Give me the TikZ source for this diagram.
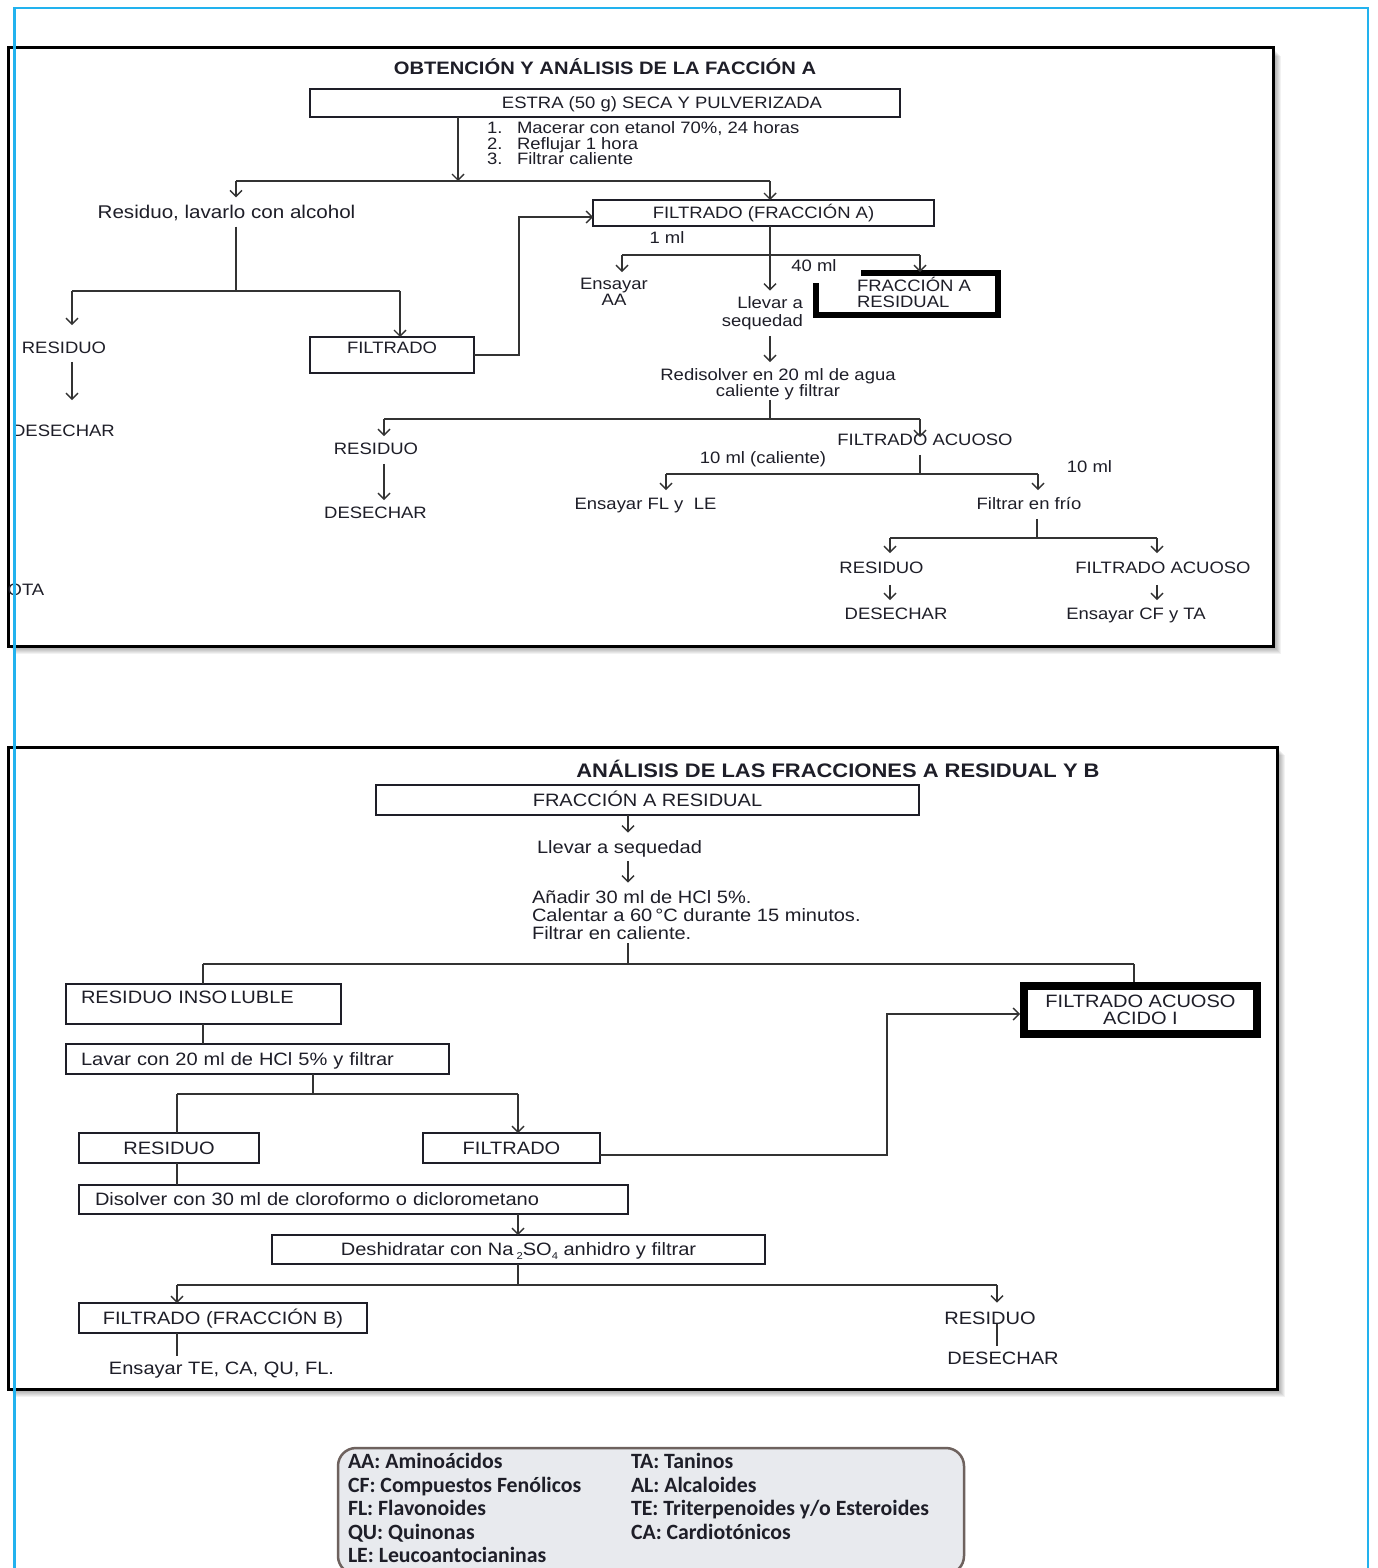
\documentclass[tikz,border=0pt]{standalone}
\usepackage{fontspec}
\setmainfont{Liberation Sans}
\newfontfamily\lab[FakeStretch=1.12]{Liberation Sans}
\newfontfamily\legfont{Carlito}
\usetikzlibrary{arrows.meta,calc}
\definecolor{ink}{HTML}{1E1E28}
\definecolor{wire}{HTML}{333333}
\definecolor{cyanframe}{HTML}{22B2EE}
\definecolor{legborder}{HTML}{6E625E}
\definecolor{legfill}{HTML}{E8EAEE}
\newcommand\chemsub[1]{\raisebox{-0.35ex}{\fontsize{10}{10}\selectfont #1}}
\tikzset{
  every node/.style={inner sep=0pt, outer sep=0pt, text=ink},
  fA/.style={font=\lab\fontsize{16.5}{18}\selectfont},
  fB/.style={font=\lab\fontsize{17.9}{19}\selectfont},
  lbl/.style={fA, text height=11.8pt, text depth=0pt},
  lblB/.style={fB, text height=12.8pt, text depth=0pt},
  boxA/.style={fA, draw=ink, line width=1.4pt, text height=11.8pt, text depth=0pt},
  boxB/.style={fB, draw=ink, line width=1.4pt, text height=12.8pt, text depth=0pt},
  conn/.style={draw=wire, line width=1.4pt},
  arr/.style={conn, -{Straight Barb[length=6pt,width=12pt]}},
  frame/.style={draw=black, line width=3pt, fill=white},
  legtext/.style={font=\legfont\bfseries\fontsize{21.8}{23.5}\selectfont, align=left, anchor=west, text depth=0pt},
}
\begin{document}
\begin{tikzpicture}[x=1pt,y=-1pt]
\useasboundingbox (0,0) rectangle (1378,1568);
\fill[white] (0,0) rectangle (1378,1568);

% ---------- frames with soft shadow ----------
\foreach \s in {1,...,8}{
  \fill[black,opacity=0.05] (8+\s,48+\s) rectangle (1273+\s,646+\s);
  \fill[black,opacity=0.05] (8+\s,747+\s) rectangle (1277+\s,1389+\s);
}
\draw[frame] (8,48) rectangle (1273,646);
\draw[frame] (8,747) rectangle (1277,1389);

% ================= Fracción A =================
\node[lbl, font=\lab\bfseries\fontsize{18}{20}\selectfont, text height=12.9pt] (t1) at (605,68) {OBTENCIÓN Y ANÁLISIS DE LA FACCIÓN A};
\node[boxA, minimum width=590pt, minimum height=28pt] (estra) at (605,103) {\hspace*{114pt}ESTRA (50 g) SECA Y PULVERIZADA};
\node[fA, font=\lab\fontsize{16.5}{15.5}\selectfont, align=left, anchor=west, text height=42.8pt, text depth=0pt] (steps) at (487,143.5)
  {\makebox[30pt][l]{1.}Macerar con etanol 70\%, 24 horas\\\makebox[30pt][l]{2.}Reflujar 1 hora\\\makebox[30pt][l]{3.}Filtrar caliente};
\node[lbl, font=\lab\fontsize{18.4}{20}\selectfont, text height=13.2pt] (resA) at (226.5,212) {Residuo, lavarlo con alcohol};
\node[boxA, minimum width=341pt, minimum height=26pt] (filtA) at (763.5,213) {FILTRADO (FRACCIÓN A)};
\node[lbl] (oneml) at (667,238) {1 ml};
\node[lbl] (fortyml) at (814,266) {40 ml};
\node[fA, font=\lab\fontsize{16.5}{16}\selectfont, align=center, text height=27.8pt, text depth=0pt] (ensAA) at (614,292) {Ensayar\\AA};
\node[fA, font=\lab\fontsize{16.5}{18}\selectfont, align=right, anchor=east, text height=29.8pt, text depth=0pt] (llevar) at (803,311.5) {Llevar a\\sequedad};
\node[fA, font=\lab\fontsize{16.5}{16}\selectfont, align=left, anchor=west, text height=27.8pt, text depth=0pt] (fracAR) at (857,294) {FRACCIÓN A\\RESIDUAL};
\draw[line width=6pt, black, line join=miter] (861,272.5) -- (998,272.5) -- (998,315) -- (816,315) -- (816,283);
\node[lbl] (res1) at (64,348) {RESIDUO};
\node[boxA, minimum width=164pt, minimum height=36pt, text depth=14pt] (filt1) at (392,355) {FILTRADO};
\node[lbl] (des1) at (63.5,431) {DESECHAR};
\node[lbl] (ota) at (26,590) {OTA};
\node[fA, font=\lab\fontsize{16.5}{15}\selectfont, align=center, text height=26.8pt, text depth=0pt] (redis) at (778,383.5) {Redisolver en 20 ml de agua\\caliente y filtrar};
\node[lbl] (res2) at (376,449) {RESIDUO};
\node[lbl] (des2) at (375.5,513) {DESECHAR};
\node[lbl] (filtAc) at (925,440) {FILTRADO ACUOSO};
\node[lbl] (tenmlc) at (763,458) {10 ml (caliente)};
\node[lbl] (tenml) at (1089.5,467) {10 ml};
\node[lbl] (ensFL) at (645.5,504) {Ensayar FL y\ \ LE};
\node[lbl] (filtF) at (1029,504) {Filtrar en frío};
\node[lbl] (res3) at (881.5,568) {RESIDUO};
\node[lbl] (des3) at (896,614) {DESECHAR};
\node[lbl] (filtAc2) at (1163,568) {FILTRADO ACUOSO};
\node[lbl] (ensCF) at (1136,614) {Ensayar CF y TA};

% connectors, fracción A
\coordinate (s1) at (458,181);
\coordinate (s1L) at (236,181);
\coordinate (s1R) at (770,181);
\draw[arr] (estra.south -| s1) -- (s1);
\draw[conn] (s1L) -- (s1R);
\draw[arr, shorten >=8pt] (s1L) -- (s1L |- resA.north);
\draw[arr] (s1R) -- (s1R |- filtA.north);

\coordinate (j2) at (236,291);
\coordinate (j2L) at (72,291);
\coordinate (j2R) at (400,291);
\draw[conn, shorten <=8pt] (resA.south -| j2) -- (j2);
\draw[conn] (j2L) -- (j2R);
\draw[arr, shorten >=17pt] (j2L) -- (j2L |- res1.north);
\draw[arr] (j2R) -- (j2R |- filt1.north);
\draw[arr, shorten <=8pt, shorten >=25pt] (res1.south -| j2L) -- (j2L |- des1.north);
\coordinate (k1) at (519,217);
\draw[arr] (filt1.east) -| (k1) -- (k1 -| filtA.west);

\coordinate (f1L) at (622,255);
\coordinate (f1R) at (920,255);
\draw[arr, shorten >=6pt] (filtA.south -| s1R) -- (s1R |- llevar.north);
\draw[conn] (f1L) -- (f1R);
\draw[arr, shorten >=6pt] (f1L) -- (f1L |- ensAA.north);
\draw[arr, shorten >=8pt] (f1R) -- (f1R |- fracAR.north);
\draw[arr, shorten <=10pt, shorten >=8pt] (llevar.south -| s1R) -- (s1R |- redis.north);

\coordinate (r2) at (770,419);
\coordinate (r2L) at (384,419);
\coordinate (r2R) at (920,419);
\draw[conn, shorten <=3pt] (redis.south -| r2) -- (r2);
\draw[conn] (r2L) -- (r2R);
\draw[arr, shorten >=7pt] (r2L) -- (r2L |- res2.north);
\draw[arr, shorten >=-3pt] (r2R) -- (r2R |- filtAc.north);
\draw[arr, shorten <=9pt, shorten >=7pt] (res2.south -| r2L) -- (r2L |- des2.north);

\coordinate (r3) at (920,474);
\coordinate (r3L) at (666,474);
\coordinate (r3R) at (1038,474);
\draw[conn, shorten <=9pt] (filtAc.south -| r3) -- (r3);
\draw[conn] (r3L) -- (r3R);
\draw[arr, shorten >=8pt] (r3L) -- (r3L |- ensFL.north);
\draw[arr, shorten >=8pt] (r3R) -- (r3R |- filtF.north);

\coordinate (r4) at (1037,538);
\coordinate (r4L) at (890,538);
\coordinate (r4R) at (1157,538);
\draw[conn, shorten <=9pt] (filtF.south -| r4) -- (r4);
\draw[conn] (r4L) -- (r4R);
\draw[arr, shorten >=9pt] (r4L) -- (r4L |- res3.north);
\draw[arr, shorten >=9pt] (r4R) -- (r4R |- filtAc2.north);
\draw[arr, shorten <=11pt, shorten >=8pt] (res3.south -| r4L) -- (r4L |- des3.north);
\draw[arr, shorten <=11pt, shorten >=8pt] (filtAc2.south -| r4R) -- (r4R |- ensCF.north);

% ================= Fracciones A residual y B =================
\node[lbl, font=\lab\bfseries\fontsize{19.6}{21}\selectfont, text height=14pt] (t2) at (838,770) {ANÁLISIS DE LAS FRACCIONES A RESIDUAL Y B};
\node[boxB, minimum width=543pt, minimum height=30pt] (fracR2) at (647.5,800) {FRACCIÓN A RESIDUAL};
\node[lblB] (llev2) at (619.5,847) {Llevar a sequedad};
\node[fB, font=\lab\fontsize{17.9}{18}\selectfont, align=left, anchor=west, text height=48.8pt, text depth=0pt] (anad) at (532,915)
  {Añadir 30 ml de HCl 5\%.\\Calentar a 60\,°C durante 15 minutos.\\Filtrar en caliente.};
\node[boxB, minimum height=40pt, text depth=14pt, align=left, text width=245pt, inner xsep=15pt] (resIns) at (203.5,1004) {RESIDUO INSO\,LUBLE};
\node[boxB, minimum height=30pt, align=left, text width=353pt, inner xsep=15pt] (lavar) at (257.5,1059) {Lavar con 20 ml de HCl 5\% y filtrar};
\node[boxB, minimum width=180pt, minimum height=30pt] (res4) at (169,1148) {RESIDUO};
\node[boxB, minimum width=177pt, minimum height=30pt] (filt4) at (511.5,1148) {FILTRADO};
\node[boxB, draw=black, line width=8pt, outer sep=4pt, minimum width=233pt, minimum height=48pt, align=center,
      font=\lab\fontsize{17.9}{17}\selectfont, text height=29.8pt] (acido) at (1140.5,1010) {FILTRADO ACUOSO\\ACIDO I};
\node[boxB, minimum height=29pt, align=left, text width=517pt, inner xsep=16pt] (diso) at (353.5,1199.5) {Disolver con 30 ml de cloroformo o diclorometano};
\node[boxB, minimum width=493pt, minimum height=29pt] (desh) at (518.5,1249.5) {Deshidratar con Na\,\chemsub{2}SO\chemsub{4} anhidro y filtrar};
\node[boxB, minimum width=288pt, minimum height=30pt] (filtB) at (223,1318) {FILTRADO (FRACCIÓN B)};
\node[lblB] (ensTE) at (221.5,1368) {Ensayar TE, CA, QU, FL.};
\node[lblB] (res5) at (990,1318) {RESIDUO};
\node[lblB] (des5) at (1003,1358) {DESECHAR};

% connectors, fracciones A residual y B
\coordinate (m1) at (628,964);
\coordinate (m1L) at (203,964);
\coordinate (m1R) at (1134,964);
\draw[arr, shorten >=8pt] (fracR2.south -| m1) -- (m1 |- llev2.north);
\draw[arr, shorten <=8pt, shorten >=8pt] (llev2.south -| m1) -- (m1 |- anad.north);
\draw[conn, shorten <=4pt] (anad.south -| m1) -- (m1);
\draw[conn] (m1L) -- (m1R);
\draw[conn] (m1L) -- (m1L |- resIns.north);
\draw[conn] (m1R) -- (m1R |- acido.north);
\draw[conn] (resIns.south -| m1L) -- (m1L |- lavar.north);

\coordinate (m2) at (313,1094);
\coordinate (m2L) at (177,1094);
\coordinate (m2R) at (518,1094);
\draw[conn] (lavar.south -| m2) -- (m2);
\draw[conn] (m2L) -- (m2R);
\draw[conn] (m2L) -- (m2L |- res4.north);
\draw[arr] (m2R) -- (m2R |- filt4.north);
\coordinate (k2) at (887,1014);
\draw[arr] ([yshift=-7pt]filt4.east) -| (k2) -- (k2 -| acido.west);
\draw[conn] (res4.south -| m2L) -- (m2L |- diso.north);
\draw[arr] (diso.south -| m2R) -- (m2R |- desh.north);

\coordinate (m3) at (518,1285);
\coordinate (m3L) at (177,1285);
\coordinate (m3R) at (997,1285);
\draw[conn] (desh.south -| m3) -- (m3);
\draw[conn] (m3L) -- (m3R);
\draw[arr] (m3L) -- (m3L |- filtB.north);
\draw[arr, shorten >=9pt] (m3R) -- (m3R |- res5.north);
\draw[conn, shorten >=6pt] (filtB.south -| m3L) -- (m3L |- ensTE.north);
\draw[conn, shorten >=6pt] (res5.south -| m3R) -- (m3R |- des5.north);

% ================= abbreviations =================
\draw[legborder, line width=2.5pt, fill=legfill, rounded corners=18pt] (338,1448) rectangle (964,1574);
\node[legtext, text height=108.1pt] (legL) at (348,1508.5)
  {AA: Aminoácidos\\CF: Compuestos Fenólicos\\FL: Flavonoides\\QU: Quinonas\\LE: Leucoantocianinas};
\node[legtext, text height=84.6pt] (legR) at (631,1496.75)
  {TA: Taninos\\AL: Alcaloides\\TE: Triterpenoides y/o Esteroides\\CA: Cardiotónicos};

% page frame
\draw[cyanframe, line width=2.7pt] (14.5,1570) -- (14.5,8) -- (1368,8) -- (1368,1570);
\end{tikzpicture}
\end{document}
